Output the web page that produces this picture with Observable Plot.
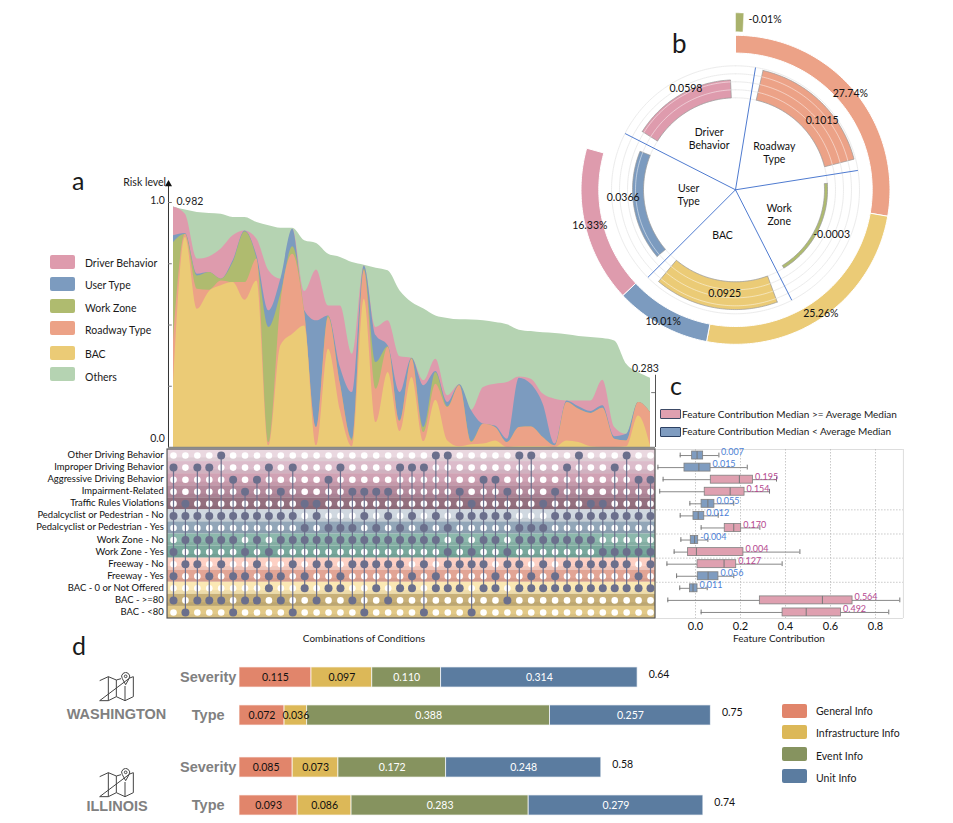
<!DOCTYPE html>
<html>
<head>
<meta charset="utf-8">
<script src="https://cdn.jsdelivr.net/npm/d3@7"></script>
<script src="https://cdn.jsdelivr.net/npm/@observablehq/plot@0.6"></script>
<style>
html,body{margin:0;padding:0;background:#fff}
#root{position:relative;width:953px;height:823px;overflow:hidden;font-family:Lato,"Open Sans",sans-serif;color:#1a1a1a}
#root svg.layer{position:absolute;left:0;top:0}
.t{position:absolute;white-space:nowrap;line-height:1}
.k{position:absolute;border-radius:2px}
</style>
</head>
<body>
<div id="root"></div>
<script>
// ---------- panel a: stacked risk level, cumulative tops per combination ----------
const combos = d3.range(41);
const topOthers = [.982,.969,.959,.955,.952,.939,.939,.918,.905,.895,.895,.844,.833,.789,.776,.755,.744,.732,.721,.639,.592,.565,.537,.527,.521,.520,.517,.510,.501,.479,.473,.468,.465,.460,.453,.449,.445,.435,.340,.306,.283];
const topDriver = [.982,.952,.769,.778,.810,.864,.884,.850,.721,.687,.891,.637,.725,.578,.578,.381,.741,.490,.517,.370,.364,.272,.360,.211,.256,.152,.245,.258,.265,.288,.279,.218,.197,.190,.190,.190,.275,.082,.054,.184,.143];
const topUser = [.864,.873,.707,.714,.687,.762,.884,.782,.558,.687,.891,.558,.517,.537,.326,.224,.741,.456,.415,.224,.364,.252,.310,.184,.256,.150,.095,.088,.034,.283,.258,.177,.014,.190,.166,.147,.170,.044,.054,.184,.143];
const topWork = [.836,.870,.700,.714,.687,.755,.881,.769,.490,.626,.819,.551,.082,.537,.258,.034,.728,.347,.411,.109,.363,.082,.306,.166,.254,.024,.095,.082,.020,.082,.084,.041,.007,.184,.156,.139,.160,.034,.027,.184,.143];
const topRoad = [.435,.870,.646,.642,.680,.673,.673,.769,.020,.585,.789,.551,.082,.530,.258,.027,.721,.238,.408,.106,.360,.061,.258,.163,.252,.020,.095,.082,.020,.082,.084,.041,.007,.184,.156,.139,.160,.034,.027,.184,.143];
const topBAC = [.258,.857,.564,.636,.660,.673,.601,.680,.007,.415,.462,.496,.007,.401,.150,.003,.605,.102,.306,.065,.286,.024,.193,.027,.003,.011,.014,.027,0,.003,.003,.003,0,.027,.020,.003,0,0,.003,.129,.007];
const riskTicks = [0,.25,.5,.75,1];
const legendA = ["Driver Behavior","User Type","Work Zone","Roadway Type","BAC","Others"];
const colorsA = {"Driver Behavior":"#de9bad","User Type":"#7c9bbf","Work Zone":"#afbb6f","Roadway Type":"#eca287","BAC":"#ebcb76","Others":"#b5d3b2"};

// ---------- panel a: condition matrix ----------
const conditions = ["Other Driving Behavior","Improper Driving Behavior","Aggressive Driving Behavior","Impairment-Related","Traffic Rules Violations","Pedalcyclist or Pedestrian - No","Pedalcyclist or Pedestrian - Yes","Work Zone - No","Work Zone - Yes","Freeway - No","Freeway - Yes","BAC - 0 or Not Offered","BAC - >=80","BAC - <80"];
const conditionColors = ["#ead8e0","#dcbccb","#d0a2b4","#b48a9c","#94707f","#d0d8e0","#92a6b8","#8cb8ac","#78a89c","#fdd0c4","#e2a595","#fbe8b4","#c8b078","#e2c988"];
const active = [
 [4,22,23,29,30,34,38],
 [0,2,3,8,10,14,19,20,21,33,37],
 [5,7,13,26,27,39,40],
 [6,9,15,16,17,18,24,28,32],
 [1,11,12,25,31,35,36],
 [0,1,2,3,4,5,6,7,8,9,10,12,16,18,20,22,24,25,26,27,28,32,33,34,35,36,37,38,39,40],
 [11,13,14,15,17,19,21,23,29,30,31],
 [1,2,3,4,5,7,9,10,11,12,13,14,15,16,17,18,19,20,21,22,24,26,27,29,30,31,32,33,34,35],
 [0,6,8,23,25,28,36,37,38,39,40],
 [1,2,4,7,10,12,13,15,16,17,18,19,21,23,24,25,26,28,29,31,33,34,35,36,37,38,40],
 [0,3,5,6,8,9,11,14,20,22,27,30,32,39],
 [8,11,13,14,17,19,20,22,23,24,26,27,29,30,31,32,33,34,35,36,37,38,39,40],
 [0,2,3,4,6,7,9,12,15,18,28],
 [1,5,10,16,21,25]
];

// ---------- panel b ----------
const outerNames = ["Roadway Type","BAC","User Type","Driver Behavior"];
const outerPct = [27.74,25.26,10.01,16.33];
const workZonePct = -0.01;
const sectorNames = ["Roadway\nType","Work\nZone","BAC","User\nType","Driver\nBehavior"];
const sectorKeys = ["Roadway Type","Work Zone","BAC","User Type","Driver Behavior"];
const sectorValues = [0.1015,-0.0003,0.0925,0.0366,0.0598];

// ---------- panel c ----------
const boxLow = [-.068,-.167,-.144,-.159,-.025,-.068,.025,-.065,-.095,-.127,-.084,-.070,-.123,.025];
const boxQ1 = [-.015,-.049,.068,.041,.027,-.009,.130,-.021,-.033,.009,.010,-.024,.286,.387];
const boxMed = [.007,.015,.195,.154,.055,.012,.170,-.004,.004,.127,.056,-.011,.564,.492];
const boxQ3 = [.034,.067,.256,.218,.084,.039,.203,.012,.213,.181,.102,.009,.698,.647];
const boxHigh = [.104,.230,.360,.329,.170,.101,.286,.055,.464,.385,.170,.052,.908,.859];
const boxAbove = [false,false,true,true,false,false,true,false,true,true,false,false,true,true];
const boxLabels = ["0.007","0.015","0.195","0.154","0.055","0.012","0.170","-0.004","0.004","0.127","0.056","0.011","0.564","0.492"];
const contribTicks = [0,.2,.4,.6,.8];

// ---------- panel d ----------
const dGroups = ["General Info","Infrastructure Info","Event Info","Unit Info"];
const dColors = ["#e1856b","#dcb858","#86935f","#5b7ca0"];
const dRows = ["Severity","Type","Severity","Type"];
const dValues = [[.115,.097,.110,.314],[.072,.036,.388,.257],[.085,.073,.172,.248],[.093,.086,.283,.279]];
const dTotals = ["0.64","0.75","0.58","0.74"];

// ---------- layout helpers ----------
const root = document.getElementById("root");
const FONT = "Lato, 'Open Sans', sans-serif";
function layer(opts){
  const svg = Plot.plot({width:953,height:823,margin:0,style:{background:"transparent",fontFamily:FONT,fontSize:"10.5px",color:"#1a1a1a"},...opts});
  svg.setAttribute("class","layer");
  svg.style.position="absolute"; svg.style.left="0"; svg.style.top="0";
  root.appendChild(svg);
}
function put(text,x,y,o={}){
  const e=document.createElement("div"); e.className="t"; e.textContent=text;
  e.style.left=x+"px"; e.style.top=y+"px";
  e.style.fontSize=(o.size||10.5)+"px";
  if(o.weight) e.style.fontWeight=o.weight;
  if(o.color) e.style.color=o.color;
  if(o.family) e.style.fontFamily=o.family;
  const ax=o.anchor==="middle"?"-50%":o.anchor==="end"?"-100%":"0";
  e.style.transform=`translate(${ax},-50%)`;
  root.appendChild(e);
}
function key(x,y,w,h,fill,stroke){
  const e=document.createElement("div"); e.className="k";
  e.style.cssText=`left:${x}px;top:${y}px;width:${w}px;height:${h}px;background:${fill};`+(stroke?`border:1px solid ${stroke};box-sizing:border-box;border-radius:1px`:"");
  root.appendChild(e);
}

// ---------- draw panel a area ----------
const layersA = [["Others",topOthers],["Driver Behavior",topDriver],["User Type",topUser],["Work Zone",topWork],["Roadway Type",topRoad],["BAC",topBAC]];
layer({
  x:{domain:[0,40],range:[173,650],axis:null},
  y:{domain:[0,1],range:[447,202],axis:null},
  marks:[
    ...layersA.map(([n,s])=>Plot.areaY(s,{x:(d,i)=>i,y1:()=>0,y2:d=>d,fill:colorsA[n],curve:"monotone-x"})),
    Plot.ruleX([-0.42],{y1:()=>0,y2:()=>1.07,stroke:"#333",strokeWidth:1}),
    Plot.dot([1.075],{x:()=>-0.42,y:d=>d,symbol:"triangle",r:2.6,fill:"#111",stroke:null}),
    Plot.ruleY(riskTicks,{x1:()=>-0.42,x2:()=>-0.1,y:d=>d,stroke:"#777",strokeWidth:1}),
    Plot.ruleY([0],{x1:()=>-0.42,x2:()=>40.42,stroke:"#888",strokeWidth:1.5}),
    Plot.ruleX([40.42],{y1:()=>0,y2:()=>.295,stroke:"#555",strokeWidth:1}),
    Plot.ruleY([.224],{x1:()=>40.1,x2:()=>40.42,stroke:"#777",strokeWidth:1}),
    Plot.text(["1.0"],{x:()=>-0.72,y:()=>1,dy:-2,text:d=>d,textAnchor:"end",fontSize:10.5,fill:"#222"}),
    Plot.text(["0.0"],{x:()=>-0.72,y:()=>0,dy:-9,text:d=>d,textAnchor:"end",fontSize:10.5,fill:"#222"}),
    Plot.text(["0.982"],{x:()=>0.25,y:()=>topOthers[0],dy:-5,text:d=>d,textAnchor:"start",fontSize:10.5,fill:"#222"}),
    Plot.text(["0.283"],{x:()=>40.7,y:()=>topOthers[40],dy:-10,text:d=>d,textAnchor:"end",fontSize:10.5,fill:"#222"}),
    Plot.text(["Risk level"],{x:()=>-0.62,y:()=>1.08,text:d=>d,textAnchor:"end",fontSize:10.5,fill:"#222"})
  ]
});

// ---------- draw panel a matrix ----------
const spans = combos.map(c=>{const rows=conditions.map((_,r)=>r).filter(r=>active[r].includes(c));return {c,lo:d3.min(rows),hi:d3.max(rows)};});
const allCells = conditions.flatMap((_,r)=>combos.map(c=>({r,c})));
const onCells = active.flatMap((cs,r)=>cs.map(c=>({r,c})));
layer({
  x:{domain:[0,40],range:[173,650],axis:null},
  y:{domain:[-0.5,13.5],range:[449,618],axis:null},
  marks:[
    Plot.rect(conditions,{x1:()=>-0.5,x2:()=>40.42,y1:(d,i)=>i-.5,y2:(d,i)=>i+.5,fill:(d,i)=>conditionColors[i]}),
    Plot.rect(conditions,{x1:()=>-0.5,x2:()=>40.42,y1:(d,i)=>i+.2,y2:(d,i)=>i+.5,fill:"#000",fillOpacity:.05}),
    Plot.rect([0],{x1:()=>-0.5,x2:()=>40.42,y1:()=>-0.5,y2:()=>13.5,fill:"none",stroke:"#555",strokeWidth:1.2}),
    Plot.dot(allCells,{x:"c",y:"r",r:3.3,fill:"#fff",stroke:null}),
    Plot.ruleX(spans,{x:"c",y1:"lo",y2:"hi",stroke:"#6b6f8c",strokeWidth:1.2}),
    Plot.dot(onCells,{x:"c",y:"r",r:4,fill:"#6b6f8c",stroke:null}),
    Plot.text(conditions,{x:()=>-0.82,y:(d,i)=>i,dy:-0.5,text:d=>d,textAnchor:"end",fontSize:9.45,fill:"#111"})
  ]
});

// ---------- draw panel b ----------
const rad=d=>d*Math.PI/180;
const polar=(a,r)=>({x:r*Math.sin(rad(a)),y:r*Math.cos(rad(a))});
function arc(a0,a1,r){const n=Math.max(2,Math.ceil(Math.abs(a1-a0)));return d3.range(n+1).map(i=>polar(a0+(a1-a0)*i/n,r));}
function sector(a0,a1,r0,r1){const p=[...arc(a0,a1,r1),...arc(a1,a0,r0)];p.push(p[0]);return p;}
const baseR=92, radial=v=>baseR+300*v;
const gridRadii=[92,100,108,116,124];
const sectorEdges=[9.3,81,153,225,297];
const barSpans=[[13,75.5],[86,148.3],[159.6,220],[229.6,292],[302,357.4]];
const barLabelAngle=[51.6,115,186,266,334], barLabelRadius=[110.6,106,104,112.6,113];
const sectorLabelAngle=[46,119,196,265,333], sectorLabelRadius=[54,50,47,47,58];
const cumPct=d3.cumsum(outerPct);
const outerLabels=outerPct.map((p,i)=>({...polar((cumPct[i]-p/2)*3.6,150),t:p.toFixed(2)+"%"}));
const barLabels=sectorValues.map((v,i)=>({...polar(barLabelAngle[i],barLabelRadius[i]),t:String(v)}));
const sectorLabels=sectorNames.map((n,i)=>({...polar(sectorLabelAngle[i],sectorLabelRadius[i]),t:n}));
const poly=(pts,o)=>Plot.line(pts,{x:"x",y:"y",...o});
layer({
  x:{domain:[-200,200],range:[535,935],axis:null},
  y:{domain:[-200,200],range:[389.3,-10.7],axis:null},
  marks:[
    ...gridRadii.map(r=>poly(arc(0,360,r),{stroke:"#ececec",strokeWidth:1})),
    ...outerPct.map((p,i)=>poly(sector((cumPct[i]-p)*3.6,cumPct[i]*3.6,136.7,154.5),{fill:colorsA[outerNames[i]],stroke:"#fff",strokeWidth:1})),
    poly(sector(0,Math.abs(workZonePct)*270,158,177),{fill:"#a9b26c",stroke:"#fff",strokeWidth:.5}),
    ...sectorValues.map((v,i)=>{
      const r1=v<0?baseR-3:radial(v), r0=baseR;
      return poly(sector(barSpans[i][0],barSpans[i][1],Math.min(r0,r1),Math.max(r0,r1)),{fill:colorsA[sectorKeys[i]],stroke:"#999",strokeWidth:.7});
    }),
    ...sectorValues.flatMap((v,i)=>gridRadii.filter(r=>r>baseR&&r<radial(v)-1).map(r=>poly(arc(barSpans[i][0],barSpans[i][1],r),{stroke:"#fff",strokeOpacity:.6,strokeWidth:.8}))),
    ...sectorEdges.map(a=>poly([polar(a,0),polar(a,123.5)],{stroke:"#4f7bd0",strokeWidth:1})),
    Plot.text(outerLabels,{x:"x",y:"y",text:"t",fontSize:10.5,fill:"#111"}),
    Plot.text(barLabels,{x:"x",y:"y",text:"t",fontSize:10.5,fill:"#111"}),
    Plot.text(sectorLabels,{x:"x",y:"y",text:"t",fontSize:10.5,lineHeight:1.25,fill:"#111"}),
    Plot.text([workZonePct.toFixed(2)+"%"],{x:()=>13,y:()=>170,text:d=>d,textAnchor:"start",fontSize:10.5,fill:"#111"})
  ]
});

// ---------- draw panel c ----------
const rowsC=conditions.map((_,i)=>i);
const pink="#dfa0b0", blue="#7f9cc0";
layer({
  marginBottom:205,
  x:{domain:[0,.8],range:[695,875],axis:null},
  y:{domain:[-0.5,13.5],range:[449,618],axis:null},
  marks:[
    Plot.ruleY([-0.5,13.5],{x1:()=>-0.173,x2:()=>0.924,stroke:"#ddd"}),
    Plot.ruleX([0.924],{y1:()=>-0.5,y2:()=>13.5,stroke:"#ddd"}),
    Plot.ruleX(contribTicks,{x:d=>d,y1:()=>-0.5,y2:()=>13.5,stroke:"#bbb",strokeDasharray:"1.5,1.5",strokeWidth:.8}),
    Plot.ruleY([4.5,6.5,8.5,10.5],{x1:()=>-0.173,x2:()=>0.924,y:d=>d,stroke:"#bbb",strokeDasharray:"1.5,1.5",strokeWidth:.8}),
    Plot.ruleY(rowsC,{y:d=>d,x1:i=>boxLow[i],x2:i=>boxHigh[i],stroke:"#888",strokeWidth:1}),
    Plot.ruleX(rowsC,{x:i=>boxLow[i],y1:i=>i-.2,y2:i=>i+.2,stroke:"#777",strokeWidth:1}),
    Plot.ruleX(rowsC,{x:i=>boxHigh[i],y1:i=>i-.2,y2:i=>i+.2,stroke:"#777",strokeWidth:1}),
    Plot.rect(rowsC,{x1:i=>boxQ1[i],x2:i=>boxQ3[i],y1:i=>i-.33,y2:i=>i+.33,fill:i=>boxAbove[i]?pink:blue,stroke:"#808080",strokeWidth:.8}),
    Plot.ruleX(rowsC,{x:i=>boxMed[i],y1:i=>i-.33,y2:i=>i+.33,stroke:"#777",strokeWidth:1}),
    Plot.text(rowsC,{x:i=>i===0?boxHigh[i]:boxQ3[i],y:i=>i,dx:2,dy:-3,text:i=>boxLabels[i],textAnchor:"start",fontSize:9,fill:i=>boxAbove[i]?"#b5488f":"#4c7fd6"}),
    Plot.axisX({ticks:contribTicks,tickFormat:".1f",tickSize:0,tickPadding:4,anchor:"bottom",label:null,fontSize:11,fill:"#111"})
  ]
});

// ---------- draw panel d ----------
const dPos=[0,1,2.37,3.37];
const dSegs=dValues.flatMap((vals,r)=>{let a=0;return vals.map((v,g)=>{const s={r,g,v,x1:a,x2:a+v};a+=v;return s;});});
const dEnds=dValues.map(v=>d3.sum(v));
layer({
  x:{domain:[0,1],range:[239,865],axis:null},
  y:{domain:[0,3.37],range:[677,805],axis:null},
  marks:[
    Plot.rect(dSegs,{x1:"x1",x2:"x2",y1:d=>dPos[d.r]-.265,y2:d=>dPos[d.r]+.265,fill:d=>dColors[d.g],stroke:"#fff",strokeOpacity:.7,strokeWidth:1}),
    Plot.text(dSegs,{x:d=>(d.x1+d.x2)/2,y:d=>dPos[d.r],text:d=>d.v.toFixed(3),fontSize:10.5,fill:d=>d.g>=2?"#fff":"#111"}),
    Plot.text(dTotals,{x:(d,i)=>dEnds[i],y:(d,i)=>dPos[i],dx:11,dy:-3,text:d=>d,textAnchor:"start",fontSize:10.5,fill:"#111"}),
    Plot.text(dRows,{x:()=>-0.05,y:(d,i)=>dPos[i],text:d=>d,fontSize:14.5,fontWeight:700,fontFamily:"'Liberation Sans',sans-serif",fill:"#808080"})
  ]
});

// ---------- text outside the plots ----------
put("a",72,180,{size:25}); put("b",672,43,{size:26}); put("c",670,385,{size:25}); put("d",72,645,{size:25});
put("Combinations of Conditions",364,638,{anchor:"middle",size:10});
put("Feature Contribution",779,638,{anchor:"middle",size:10});
legendA.forEach((n,i)=>{
  const y=[255,277,299,321,346,367][i];
  key(50,y,25,14,colorsA[n]);
  put(n,85,[263,285,308,330,354,377][i],{size:10.5});
});
key(660,409,21,10,pink,"#3d4a66"); put("Feature Contribution Median >= Average Median",682,414,{size:10});
key(660,427,21,10,blue,"#2c4163"); put("Feature Contribution Median < Average Median",682,431,{size:10});
dGroups.forEach((n,i)=>{
  const y=[704,725,747,769][i];
  key(782,y,25,14,dColors[i]);
  put(n,816,[711,733,756,778][i],{size:10.5});
});
const icon=`<svg xmlns="http://www.w3.org/2000/svg" viewBox="0 0 105 90" width="35" height="30" fill="none" stroke="#444" stroke-width="3"><path d="M2 26L28 14L52 24L66 20M92 18L103 14V74L78 86L52 74L28 86L2 86Z"/><path d="M28 14V86M52 24V74M78 42V86" /><path d="M80 38L70 20A12 12 0 1 1 90 20Z"/><circle cx="80" cy="13" r="4"/></svg>`;
[[99,672],[99,768]].forEach(([x,y])=>{const d=document.createElement("div");d.style.cssText=`position:absolute;left:${x}px;top:${y}px`;d.innerHTML=icon;root.appendChild(d);});
put("WASHINGTON",116.5,714,{anchor:"middle",size:14.5,weight:700,color:"#808080",family:"'Liberation Sans',sans-serif"});
put("ILLINOIS",117,806,{anchor:"middle",size:14.5,weight:700,color:"#808080",family:"'Liberation Sans',sans-serif"});
</script>
</body>
</html>
